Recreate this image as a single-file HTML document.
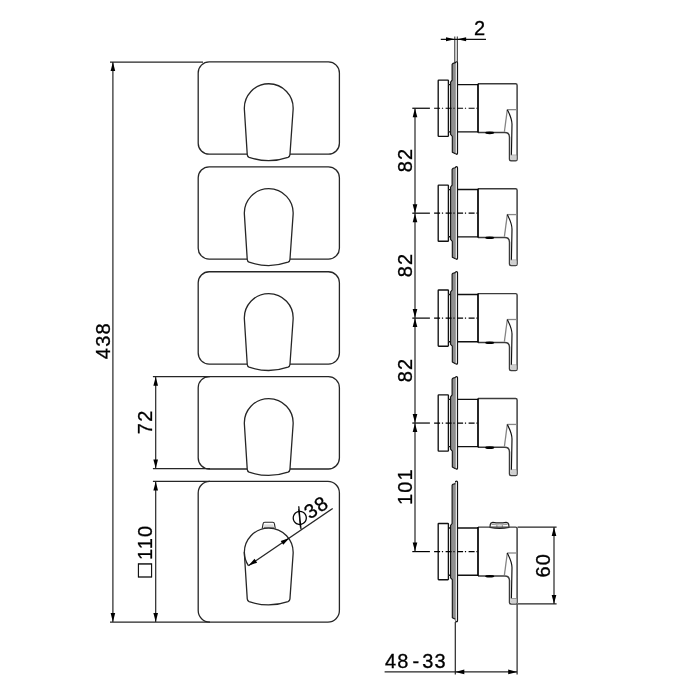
<!DOCTYPE html>
<html lang="en"><head><meta charset="utf-8"><title>Dimension drawing</title>
<style>html,body{margin:0;padding:0;background:#fff}body{width:700px;height:700px;overflow:hidden}svg{display:block;will-change:transform}text{font-family:"Liberation Sans",sans-serif;font-size:20px;fill:#000;stroke:#000;stroke-width:0.3px;letter-spacing:1.2px}</style>
</head><body>
<svg width="700" height="700" viewBox="0 0 700 700">
<rect width="700" height="700" fill="#fff"/>
<g fill="none" stroke="#262626" stroke-width="1.3">
<rect x="198.20" y="61.90" width="141.20" height="92.3" rx="11" ry="11"/>
<rect x="198.20" y="166.83" width="141.20" height="92.3" rx="11" ry="11"/>
<rect x="198.20" y="271.76" width="141.20" height="92.3" rx="11" ry="11"/>
<rect x="198.20" y="376.69" width="141.20" height="92.3" rx="11" ry="11"/>
<rect x="198.20" y="481.4" width="141.20" height="140.7" rx="11.5" ry="11.5"/>
<path transform="translate(0 0.00)" d="M 244.4 109.7 A 24.4 24.4 0 1 1 293.1 109.7 L 289.95 154.6 Q 289.8 156.6 288 157.3 Q 268.6 164 249.1 157.3 Q 247.4 156.6 247.25 154.6 Z" fill="#fff"/>
<path transform="translate(0 104.93)" d="M 244.4 109.7 A 24.4 24.4 0 1 1 293.1 109.7 L 289.95 154.6 Q 289.8 156.6 288 157.3 Q 268.6 164 249.1 157.3 Q 247.4 156.6 247.25 154.6 Z" fill="#fff"/>
<path transform="translate(0 209.86)" d="M 244.4 109.7 A 24.4 24.4 0 1 1 293.1 109.7 L 289.95 154.6 Q 289.8 156.6 288 157.3 Q 268.6 164 249.1 157.3 Q 247.4 156.6 247.25 154.6 Z" fill="#fff"/>
<path transform="translate(0 314.79)" d="M 244.4 109.7 A 24.4 24.4 0 1 1 293.1 109.7 L 289.95 154.6 Q 289.8 156.6 288 157.3 Q 268.6 164 249.1 157.3 Q 247.4 156.6 247.25 154.6 Z" fill="#fff"/>
<path d="M 262.2 528.6 L 263.1 523.7 Q 263.3 522.3 264.8 522.3 L 272.7 522.3 Q 274.2 522.3 274.4 523.7 L 275.3 528.6" fill="#fff" stroke-width="1.1"/>
<rect x="264.2" y="524.4" width="9.2" height="2.3" fill="#dcdcdc" stroke="none"/>
<path d="M 263.6 527.4 H 274" stroke-width="0.8" stroke="#555"/>
<path transform="translate(0 444.30)" d="M 244.4 109.7 A 24.4 24.4 0 1 1 293.1 109.7 L 289.95 154.6 Q 289.8 156.6 288 157.3 Q 268.6 164 249.1 157.3 Q 247.4 156.6 247.25 154.6 Z" fill="#fff"/>
<path d="M 244.35 552.1 A 24.4 24.4 0 0 0 248.4 565.7"/>
</g>
<g fill="none" stroke="#262626" stroke-width="1.2">
<path d="M110 62.1H203 M110 622.1H210 M112.9 62.1V622.1"/>
<path d="M152.9 376.7H210 M152.9 468.6H210 M152.9 481.4H210 M155.7 376.7V468.6 M155.7 481.4V622.1"/>
<path d="M248.4 565.8 L332.7 508.4"/>
</g>
<polygon points="112.90,62.10 115.20,71.10 110.60,71.10" fill="#000"/>
<polygon points="112.90,622.10 110.60,613.10 115.20,613.10" fill="#000"/>
<polygon points="155.70,376.70 158.00,385.70 153.40,385.70" fill="#000"/>
<polygon points="155.70,468.60 153.40,459.60 158.00,459.60" fill="#000"/>
<polygon points="155.70,481.40 158.00,490.40 153.40,490.40" fill="#000"/>
<polygon points="155.70,622.10 153.40,613.10 158.00,613.10" fill="#000"/>
<polygon points="248.40,565.80 254.54,558.83 257.13,562.64" fill="#000"/>
<polygon points="289.40,537.90 283.26,544.87 280.67,541.06" fill="#000"/>
<text transform="translate(109.8 340.7) rotate(-90)" text-anchor="middle">438</text>
<text transform="translate(152.1 421.8) rotate(-90)" text-anchor="middle">72</text>
<text transform="translate(151.8 577.5) rotate(-90)"><tspan x="0" font-size="23.5px" style="letter-spacing:0">□</tspan><tspan x="17.4">110</tspan></text>
<g transform="translate(288.6 538) rotate(-34.25)">
<text x="28" y="-2.9">38</text>
</g>
<text transform="translate(299.8 517.85) rotate(-44.6)" x="-8.71" y="7.0" style="font-family:'DejaVu Sans',sans-serif;font-size:20px;stroke:none;letter-spacing:0">∅</text>
<path d="M298.75 506.2 L301 529.3" stroke="#000" stroke-width="1.25" fill="none"/>
<g fill="none" stroke="#111" stroke-width="0.9"><path d="M454.8 36.5V64 M457.3 36.5V64"/><path d="M440.8 39.3H486" stroke-width="1.2"/></g>
<polygon points="454.80,39.30 446.00,41.30 446.00,37.30" fill="#000"/>
<polygon points="457.30,39.30 466.10,37.30 466.10,41.30" fill="#000"/>
<g fill="none" stroke="#111" stroke-width="1.35" stroke-linejoin="round">
<path d="M 448.4 131.85 V 135.75 Q 448.4 136.35 447.80 136.35 H 438.80 Q 438.2 136.35 438.2 135.75 V 80.75 Q 438.2 80.15 438.80 80.15 H 447.80 Q 448.4 80.15 448.4 80.75 V 84.65" fill="#fff"/>
<path d="M 448.4 84.65 V 131.85 M 448.4 84.65 H 450.5 M 448.4 131.85 H 450.5" />
<path d="M 452.1 64.35 L 453 63.35 L 455.4 62.75 V 153.85 L 452.3 152.25 V 136.35 L 450.6 134.45 V 82.05 L 452.1 80.15 Z" fill="#909090" stroke="none"/>
<path d="M 455.4 62.95 Q 455.4 61.75 456.5 61.75 Q 457.5 61.75 457.5 62.75 V 153.35 Q 457.5 154.35 456.6 154.35 L 455.4 153.55 Z" fill="#fff" stroke="none"/>
<path d="M 455.4 62.75 L 453 63.35 L 452.1 64.35 V 80.15 L 450.6 82.05 V 134.45 L 452.3 136.35 V 152.25 L 455.4 153.85" stroke-width="1.1"/>
<path d="M 455.4 62.75 V 153.55" stroke="#555" stroke-width="0.55"/>
<path d="M 455.4 62.95 Q 455.4 61.75 456.5 61.75 Q 457.5 61.75 457.5 62.75 V 153.35 Q 457.5 154.35 456.6 154.35 L 455.4 153.55" stroke-width="1.2"/>
<path d="M 457.5 84.60 H 478 M 457.5 131.90 H 478"/>
</g>
<g fill="none" stroke="#3c3c3c" stroke-width="1.45" stroke-linejoin="round">
<path d="M 478 83.75 H 515.6 Q 517.1 83.75 517.1 85.25 V 159.15 Q 517.1 160.65 515.6 160.65 H 511 Q 509.5 160.65 509.5 159.15 V 137.25 Q 509.5 132.55 504.8 132.55 H 478"/>
<path d="M 507.3 109.65 H 517.1" stroke="#888" stroke-width="1.3"/>
<path d="M 507.3 109.65 L 504.4 131.75" stroke="#858585" stroke-width="1.3"/>
<path d="M 507.3 109.65 C 509 113.25 512 118.25 512 124.25 L 511.4 155.25" stroke="#111" stroke-width="1.15"/>
<path d="M 511 155.15 H 516.6 M 511 157.95 H 516.6" stroke="#888" stroke-width="0.9"/>
<rect x="511.2" y="155.55" width="5.3" height="4.6" fill="#d0d0d0" stroke="none"/>
</g>
<path d="M 478 83.75 V 132.55" stroke="#000" stroke-width="1.7" fill="none"/>
<ellipse cx="489.7" cy="132.85" rx="4.6" ry="1.3" fill="#000"/>
<path d="M 412.3 108.25 H 429.9" stroke="#000" stroke-width="1.2" fill="none"/>
<path d="M 434.1 108.25 H 477.4" stroke="#000" stroke-width="1.2" fill="none" stroke-dasharray="6 1.8 1.2 2.5"/>
<g fill="none" stroke="#111" stroke-width="1.35" stroke-linejoin="round">
<path d="M 448.4 236.78 V 240.68 Q 448.4 241.28 447.80 241.28 H 438.80 Q 438.2 241.28 438.2 240.68 V 185.68 Q 438.2 185.08 438.80 185.08 H 447.80 Q 448.4 185.08 448.4 185.68 V 189.58" fill="#fff"/>
<path d="M 448.4 189.58 V 236.78 M 448.4 189.58 H 450.5 M 448.4 236.78 H 450.5" />
<path d="M 452.1 169.28 L 453 168.28 L 455.4 167.68 V 258.78 L 452.3 257.18 V 241.28 L 450.6 239.38 V 186.98 L 452.1 185.08 Z" fill="#909090" stroke="none"/>
<path d="M 455.4 167.88 Q 455.4 166.68 456.5 166.68 Q 457.5 166.68 457.5 167.68 V 258.28 Q 457.5 259.28 456.6 259.28 L 455.4 258.48 Z" fill="#fff" stroke="none"/>
<path d="M 455.4 167.68 L 453 168.28 L 452.1 169.28 V 185.08 L 450.6 186.98 V 239.38 L 452.3 241.28 V 257.18 L 455.4 258.78" stroke-width="1.1"/>
<path d="M 455.4 167.68 V 258.48" stroke="#555" stroke-width="0.55"/>
<path d="M 455.4 167.88 Q 455.4 166.68 456.5 166.68 Q 457.5 166.68 457.5 167.68 V 258.28 Q 457.5 259.28 456.6 259.28 L 455.4 258.48" stroke-width="1.2"/>
<path d="M 457.5 189.53 H 478 M 457.5 236.83 H 478"/>
</g>
<g fill="none" stroke="#3c3c3c" stroke-width="1.45" stroke-linejoin="round">
<path d="M 478 188.68 H 515.6 Q 517.1 188.68 517.1 190.18 V 264.08 Q 517.1 265.58 515.6 265.58 H 511 Q 509.5 265.58 509.5 264.08 V 242.18 Q 509.5 237.48 504.8 237.48 H 478"/>
<path d="M 507.3 214.58 H 517.1" stroke="#888" stroke-width="1.3"/>
<path d="M 507.3 214.58 L 504.4 236.68" stroke="#858585" stroke-width="1.3"/>
<path d="M 507.3 214.58 C 509 218.18 512 223.18 512 229.18 L 511.4 260.18" stroke="#111" stroke-width="1.15"/>
<path d="M 511 260.08 H 516.6 M 511 262.88 H 516.6" stroke="#888" stroke-width="0.9"/>
<rect x="511.2" y="260.48" width="5.3" height="4.6" fill="#d0d0d0" stroke="none"/>
</g>
<path d="M 478 188.68 V 237.48" stroke="#000" stroke-width="1.7" fill="none"/>
<ellipse cx="489.7" cy="237.78" rx="4.6" ry="1.3" fill="#000"/>
<path d="M 412.3 213.18 H 429.9" stroke="#000" stroke-width="1.2" fill="none"/>
<path d="M 434.1 213.18 H 477.4" stroke="#000" stroke-width="1.2" fill="none" stroke-dasharray="6 1.8 1.2 2.5"/>
<g fill="none" stroke="#111" stroke-width="1.35" stroke-linejoin="round">
<path d="M 448.4 341.71 V 345.61 Q 448.4 346.21 447.80 346.21 H 438.80 Q 438.2 346.21 438.2 345.61 V 290.61 Q 438.2 290.01 438.80 290.01 H 447.80 Q 448.4 290.01 448.4 290.61 V 294.51" fill="#fff"/>
<path d="M 448.4 294.51 V 341.71 M 448.4 294.51 H 450.5 M 448.4 341.71 H 450.5" />
<path d="M 452.1 274.21 L 453 273.21 L 455.4 272.61 V 363.71 L 452.3 362.11 V 346.21 L 450.6 344.31 V 291.91 L 452.1 290.01 Z" fill="#909090" stroke="none"/>
<path d="M 455.4 272.81 Q 455.4 271.61 456.5 271.61 Q 457.5 271.61 457.5 272.61 V 363.21 Q 457.5 364.21 456.6 364.21 L 455.4 363.41 Z" fill="#fff" stroke="none"/>
<path d="M 455.4 272.61 L 453 273.21 L 452.1 274.21 V 290.01 L 450.6 291.91 V 344.31 L 452.3 346.21 V 362.11 L 455.4 363.71" stroke-width="1.1"/>
<path d="M 455.4 272.61 V 363.41" stroke="#555" stroke-width="0.55"/>
<path d="M 455.4 272.81 Q 455.4 271.61 456.5 271.61 Q 457.5 271.61 457.5 272.61 V 363.21 Q 457.5 364.21 456.6 364.21 L 455.4 363.41" stroke-width="1.2"/>
<path d="M 457.5 294.46 H 478 M 457.5 341.76 H 478"/>
</g>
<g fill="none" stroke="#3c3c3c" stroke-width="1.45" stroke-linejoin="round">
<path d="M 478 293.61 H 515.6 Q 517.1 293.61 517.1 295.11 V 369.01 Q 517.1 370.51 515.6 370.51 H 511 Q 509.5 370.51 509.5 369.01 V 347.11 Q 509.5 342.41 504.8 342.41 H 478"/>
<path d="M 507.3 319.51 H 517.1" stroke="#888" stroke-width="1.3"/>
<path d="M 507.3 319.51 L 504.4 341.61" stroke="#858585" stroke-width="1.3"/>
<path d="M 507.3 319.51 C 509 323.11 512 328.11 512 334.11 L 511.4 365.11" stroke="#111" stroke-width="1.15"/>
<path d="M 511 365.01 H 516.6 M 511 367.81 H 516.6" stroke="#888" stroke-width="0.9"/>
<rect x="511.2" y="365.41" width="5.3" height="4.6" fill="#d0d0d0" stroke="none"/>
</g>
<path d="M 478 293.61 V 342.41" stroke="#000" stroke-width="1.7" fill="none"/>
<ellipse cx="489.7" cy="342.71" rx="4.6" ry="1.3" fill="#000"/>
<path d="M 412.3 318.11 H 429.9" stroke="#000" stroke-width="1.2" fill="none"/>
<path d="M 434.1 318.11 H 477.4" stroke="#000" stroke-width="1.2" fill="none" stroke-dasharray="6 1.8 1.2 2.5"/>
<g fill="none" stroke="#111" stroke-width="1.35" stroke-linejoin="round">
<path d="M 448.4 446.64 V 450.54 Q 448.4 451.14 447.80 451.14 H 438.80 Q 438.2 451.14 438.2 450.54 V 395.54 Q 438.2 394.94 438.80 394.94 H 447.80 Q 448.4 394.94 448.4 395.54 V 399.44" fill="#fff"/>
<path d="M 448.4 399.44 V 446.64 M 448.4 399.44 H 450.5 M 448.4 446.64 H 450.5" />
<path d="M 452.1 379.14 L 453 378.14 L 455.4 377.54 V 468.64 L 452.3 467.04 V 451.14 L 450.6 449.24 V 396.84 L 452.1 394.94 Z" fill="#909090" stroke="none"/>
<path d="M 455.4 377.74 Q 455.4 376.54 456.5 376.54 Q 457.5 376.54 457.5 377.54 V 468.14 Q 457.5 469.14 456.6 469.14 L 455.4 468.34 Z" fill="#fff" stroke="none"/>
<path d="M 455.4 377.54 L 453 378.14 L 452.1 379.14 V 394.94 L 450.6 396.84 V 449.24 L 452.3 451.14 V 467.04 L 455.4 468.64" stroke-width="1.1"/>
<path d="M 455.4 377.54 V 468.34" stroke="#555" stroke-width="0.55"/>
<path d="M 455.4 377.74 Q 455.4 376.54 456.5 376.54 Q 457.5 376.54 457.5 377.54 V 468.14 Q 457.5 469.14 456.6 469.14 L 455.4 468.34" stroke-width="1.2"/>
<path d="M 457.5 399.39 H 478 M 457.5 446.69 H 478"/>
</g>
<g fill="none" stroke="#3c3c3c" stroke-width="1.45" stroke-linejoin="round">
<path d="M 478 398.54 H 515.6 Q 517.1 398.54 517.1 400.04 V 473.94 Q 517.1 475.44 515.6 475.44 H 511 Q 509.5 475.44 509.5 473.94 V 452.04 Q 509.5 447.34 504.8 447.34 H 478"/>
<path d="M 507.3 424.44 H 517.1" stroke="#888" stroke-width="1.3"/>
<path d="M 507.3 424.44 L 504.4 446.54" stroke="#858585" stroke-width="1.3"/>
<path d="M 507.3 424.44 C 509 428.04 512 433.04 512 439.04 L 511.4 470.04" stroke="#111" stroke-width="1.15"/>
<path d="M 511 469.94 H 516.6 M 511 472.74 H 516.6" stroke="#888" stroke-width="0.9"/>
<rect x="511.2" y="470.34" width="5.3" height="4.6" fill="#d0d0d0" stroke="none"/>
</g>
<path d="M 478 398.54 V 447.34" stroke="#000" stroke-width="1.7" fill="none"/>
<ellipse cx="489.7" cy="447.64" rx="4.6" ry="1.3" fill="#000"/>
<path d="M 412.3 423.04 H 429.9" stroke="#000" stroke-width="1.2" fill="none"/>
<path d="M 434.1 423.04 H 477.4" stroke="#000" stroke-width="1.2" fill="none" stroke-dasharray="6 1.8 1.2 2.5"/>
<path d="M 490 527.3 L 490.3 524.3 Q 490.6 522.4 492.8 522.3 Q 499.5 523.5 506.2 522.3 Q 508.4 522.4 508.7 524.3 L 509 527.3 Q 499.5 529.4 490 527.3 Z" fill="#fff" stroke="#1a1a1a" stroke-width="1.2"/>
<path d="M 491.4 524.4 Q 499.5 525.4 507.6 524.4" fill="none" stroke="#999" stroke-width="1"/>
<path d="M 496.9 525 V 527.8 M 502.3 525 V 527.8" fill="none" stroke="#777" stroke-width="0.8"/>
<g fill="none" stroke="#111" stroke-width="1.35" stroke-linejoin="round">
<path d="M 448.4 575.20 V 579.10 Q 448.4 579.70 447.80 579.70 H 438.80 Q 438.2 579.70 438.2 579.10 V 524.10 Q 438.2 523.50 438.80 523.50 H 447.80 Q 448.4 523.50 448.4 524.10 V 528.00" fill="#fff"/>
<path d="M 448.4 528.00 V 575.20 M 448.4 528.00 H 450.5 M 448.4 575.20 H 450.5" />
<path d="M 452.1 485.20 L 453 484.20 L 455.4 483.60 V 619.30 L 452.3 617.70 V 579.70 L 450.6 577.80 V 525.40 L 452.1 523.50 Z" fill="#909090" stroke="none"/>
<path d="M 455.4 482.30 Q 455.4 481.10 456.5 481.10 Q 457.5 481.10 457.5 482.10 V 620.80 Q 457.5 621.80 456.6 621.80 L 455.4 621.00 Z" fill="#fff" stroke="none"/>
<path d="M 455.4 483.60 L 453 484.20 L 452.1 485.20 V 523.50 L 450.6 525.40 V 577.80 L 452.3 579.70 V 617.70 L 455.4 619.30" stroke-width="1.1"/>
<path d="M 455.4 482.10 V 621.00" stroke="#555" stroke-width="0.55"/>
<path d="M 455.4 482.30 Q 455.4 481.10 456.5 481.10 Q 457.5 481.10 457.5 482.10 V 620.80 Q 457.5 621.80 456.6 621.80 L 455.4 621.00" stroke-width="1.2"/>
<path d="M 457.5 527.95 H 478 M 457.5 575.25 H 478"/>
</g>
<g fill="none" stroke="#3c3c3c" stroke-width="1.45" stroke-linejoin="round">
<path d="M 478 527.10 H 515.6 Q 517.1 527.10 517.1 528.60 V 602.50 Q 517.1 604.00 515.6 604.00 H 511 Q 509.5 604.00 509.5 602.50 V 580.60 Q 509.5 575.90 504.8 575.90 H 478"/>
<path d="M 507.3 553.00 H 517.1" stroke="#888" stroke-width="1.3"/>
<path d="M 507.3 553.00 L 504.4 575.10" stroke="#858585" stroke-width="1.3"/>
<path d="M 507.3 553.00 C 509 556.60 512 561.60 512 567.60 L 511.4 598.60" stroke="#111" stroke-width="1.15"/>
<path d="M 511 598.50 H 516.6 M 511 601.30 H 516.6" stroke="#888" stroke-width="0.9"/>
<rect x="511.2" y="598.90" width="5.3" height="4.6" fill="#d0d0d0" stroke="none"/>
</g>
<path d="M 478 527.10 V 575.90" stroke="#000" stroke-width="1.7" fill="none"/>
<ellipse cx="489.7" cy="576.20" rx="4.6" ry="1.3" fill="#000"/>
<path d="M 412.3 551.60 H 429.9" stroke="#000" stroke-width="1.2" fill="none"/>
<path d="M 434.1 551.60 H 477.4" stroke="#000" stroke-width="1.2" fill="none" stroke-dasharray="6 1.8 1.2 2.5"/>
<g fill="none" stroke="#262626" stroke-width="1.2">
<path d="M415 108.25 V 551.60"/>
<path d="M517.6 527.1 H556.6 M517.6 603.9 H556.6 M554 527.1 V603.9"/>
<path d="M384.6 671.9 H517.2 M455.3 622 V674.6 M517.1 604 V674.6"/>
</g>
<polygon points="415.00,108.25 417.30,117.25 412.70,117.25" fill="#000"/>
<polygon points="415.00,213.18 412.70,204.18 417.30,204.18" fill="#000"/>
<polygon points="415.00,213.18 417.30,222.18 412.70,222.18" fill="#000"/>
<polygon points="415.00,318.11 412.70,309.11 417.30,309.11" fill="#000"/>
<polygon points="415.00,318.11 417.30,327.11 412.70,327.11" fill="#000"/>
<polygon points="415.00,423.04 412.70,414.04 417.30,414.04" fill="#000"/>
<polygon points="415.00,423.04 417.30,432.04 412.70,432.04" fill="#000"/>
<polygon points="415.00,551.60 412.70,542.60 417.30,542.60" fill="#000"/>
<polygon points="554.00,527.10 556.30,536.10 551.70,536.10" fill="#000"/>
<polygon points="554.00,603.90 551.70,594.90 556.30,594.90" fill="#000"/>
<polygon points="455.30,671.90 464.30,669.60 464.30,674.20" fill="#000"/>
<polygon points="517.20,671.90 508.20,674.20 508.20,669.60" fill="#000"/>
<text x="474.0" y="35.3">2</text>
<text transform="translate(411.7 160.02) rotate(-90)" text-anchor="middle">82</text>
<text transform="translate(411.7 264.94) rotate(-90)" text-anchor="middle">82</text>
<text transform="translate(411.7 369.88) rotate(-90)" text-anchor="middle">82</text>
<text transform="translate(411.7 486.62) rotate(-90)" text-anchor="middle">101</text>
<text transform="translate(550.3 565.2) rotate(-90)" text-anchor="middle">60</text>
<text y="668"><tspan x="385">48</tspan><tspan x="412.6">-</tspan><tspan x="422.2">33</tspan></text>
</svg></body></html>
